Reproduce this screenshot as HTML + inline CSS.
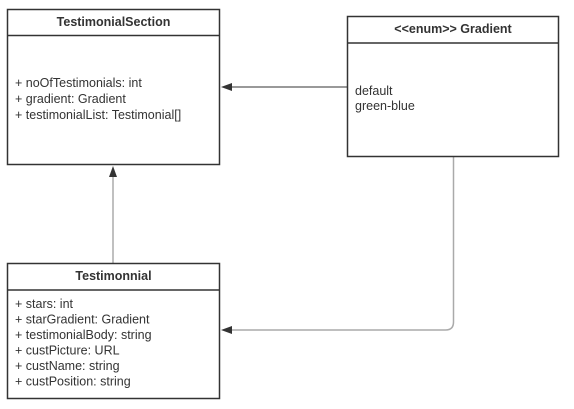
<!DOCTYPE html>
<html><head><meta charset="utf-8"><style>
html,body{margin:0;padding:0;background:#fff;}
svg{display:block;}
text{font-family:"Liberation Sans",Arial,sans-serif;font-size:12.5px;fill:#333;}
.b{font-weight:bold;font-size:12.5px;}
</style></head><body>
<svg width="574" height="409" viewBox="0 0 574 409" xmlns="http://www.w3.org/2000/svg">
<line x1="347" y1="87" x2="230" y2="87" stroke="#333" stroke-width="1"/>
<polygon points="221,87 232,83 232,91" fill="#333"/>
<line x1="113" y1="263" x2="113" y2="176" stroke="#aaa" stroke-width="1.5"/>
<polygon points="113,166 109,177 117,177" fill="#333"/>
<path d="M453.5 156 V322 Q453.5 330 445.5 330 H230" fill="none" stroke="#aaa" stroke-width="1.5"/>
<polygon points="221,330 232,326 232,334" fill="#333"/>
<rect x="7.5" y="9.5" width="212" height="155" fill="#fff" stroke="#333" stroke-width="1.5"/>
<line x1="7.5" y1="35.5" x2="219.5" y2="35.5" stroke="#333" stroke-width="1.5"/>
<text class="b" x="113.5" y="26" text-anchor="middle">TestimonialSection</text>
<text x="15" y="87">+ noOfTestimonials: int</text>
<text x="15" y="103">+ gradient: Gradient</text>
<text x="15" y="119">+ testimonialList: Testimonial[]</text>
<rect x="347.5" y="16.5" width="211" height="140" fill="#fff" stroke="#333" stroke-width="1.5"/>
<line x1="347.5" y1="43" x2="558.5" y2="43" stroke="#333" stroke-width="1.5"/>
<text class="b" x="453" y="33" text-anchor="middle">&lt;&lt;enum&gt;&gt; Gradient</text>
<text x="355" y="95">default</text>
<text x="355" y="110">green-blue</text>
<rect x="7.5" y="263.5" width="212" height="135" fill="#fff" stroke="#333" stroke-width="1.5"/>
<line x1="7.5" y1="290" x2="219.5" y2="290" stroke="#333" stroke-width="1.5"/>
<text class="b" x="113.5" y="280" text-anchor="middle">Testimonnial</text>
<text x="15" y="308">+ stars: int</text>
<text x="15" y="323.5">+ starGradient: Gradient</text>
<text x="15" y="339">+ testimonialBody: string</text>
<text x="15" y="354.5">+ custPicture: URL</text>
<text x="15" y="370">+ custName: string</text>
<text x="15" y="385.5">+ custPosition: string</text>
</svg>
</body></html>
